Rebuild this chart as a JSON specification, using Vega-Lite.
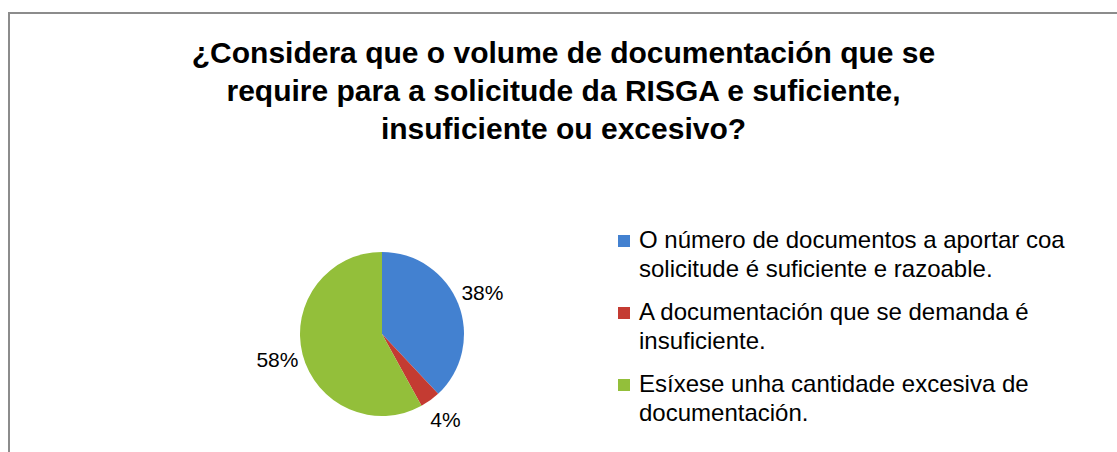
{
  "$schema": "https://vega.github.io/schema/vega-lite/v6.json",
  "background": "white",
  "padding": {"left": 8, "top": 12, "right": 0, "bottom": 0},
  "spacing": 0,
  "bounds": "flush",
  "title": {
    "text": ["¿Considera que o volume de documentación que se", "require para a solicitude da RISGA e suficiente,", "insuficiente ou excesivo?"],
    "anchor": "middle",
    "font": "Liberation Sans",
    "fontSize": 30,
    "fontWeight": "bold",
    "lineHeight": 38,
    "color": "#000000",
    "offset": -133
  },
  "data": {
    "values": [
      {"categoria": "O número de documentos a aportar coa solicitude é suficiente e razoable.", "porcentaxe": 0.38, "orde": 1},
      {"categoria": "A documentación que se demanda é insuficiente.", "porcentaxe": 0.04, "orde": 2},
      {"categoria": "Esíxese unha cantidade excesiva de documentación.", "porcentaxe": 0.58, "orde": 3}
    ]
  },
  "hconcat": [
    {
      "width": 746,
      "height": 642,
      "view": {"stroke": "#8c8c8c", "strokeWidth": 2, "strokeDash": [746, 1388, 642]},
      "encoding": {
        "theta": {"field": "porcentaxe", "type": "quantitative", "stack": true},
        "order": {"field": "orde", "type": "quantitative"}
      },
      "layer": [
        {
          "mark": {"type": "arc", "outerRadius": 82},
          "encoding": {
            "color": {
              "field": "categoria",
              "type": "nominal",
              "scale": {
                "domain": ["O número de documentos a aportar coa solicitude é suficiente e razoable.", "A documentación que se demanda é insuficiente.", "Esíxese unha cantidade excesiva de documentación."],
                "range": ["#4381D0", "#C43B32", "#93BF3A"]
              },
              "legend": {
                "orient": "none",
                "legendX": 603,
                "legendY": 216,
                "title": null,
                "padding": 0,
                "symbolType": "square",
                "symbolSize": 144,
                "symbolStrokeWidth": 0,
                "labelFont": "Liberation Sans",
                "labelFontSize": 24,
                "labelColor": "#000000",
                "labelLimit": 0,
                "labelOffset": 3,
                "rowPadding": 19,
                "labelExpr": "indexof(datum.label, 'O n') == 0 ? ['O número de documentos a aportar coa', 'solicitude é suficiente e razoable.'] : indexof(datum.label, 'A doc') == 0 ? ['A documentación que se demanda é', 'insuficiente.'] : ['Esíxese unha cantidade excesiva de', 'documentación.']",
                "encode": {"labels": {"update": {"lineHeight": {"value": 29}}}}
              }
            }
          }
        },
        {
          "mark": {"type": "text", "radius": 108, "font": "Liberation Sans", "fontSize": 21, "color": "#000000"},
          "encoding": {"text": {"field": "porcentaxe", "type": "quantitative", "format": ".0%"}}
        }
      ]
    },
    {
      "width": 363,
      "height": 642,
      "view": {"stroke": "#8c8c8c", "strokeWidth": 2, "strokeDash": [363, 3000]},
      "mark": {"type": "point", "opacity": 0},
      "encoding": {}
    }
  ],
  "resolve": {"legend": {"color": "independent"}}
}
